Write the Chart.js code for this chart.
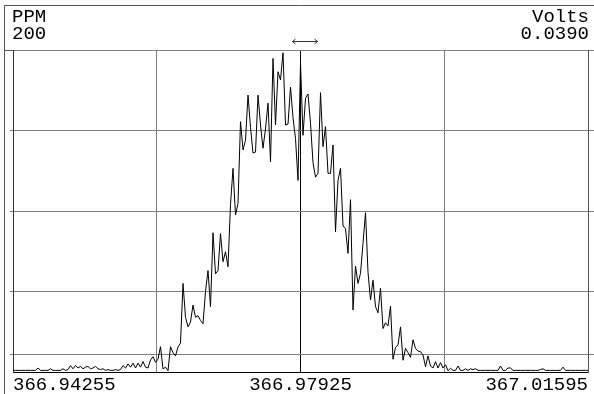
<!DOCTYPE html>
<html>
<head>
<meta charset="utf-8">
<script src="https://cdn.jsdelivr.net/npm/chart.js@4/dist/chart.umd.min.js"></script>
<style>
  html, body { margin: 0; padding: 0; background: #fff; }
  canvas { display: block; }
</style>
</head>
<body>
<canvas id="myChart" width="594" height="394"></canvas>
<script>
// scan range (m/z) and the grid / label positions on it
const mzStart = 366.94255;
const mzEnd = 367.01595;
const xGridMz = [366.94255, 366.9609, 366.97925, 366.9976, 367.01595];
const xTickLabels = ['366.94255', '', '366.97925', '', '367.01595'];

// y scale: PPM on the left, Volts on the right
const yTopPpm = 200;
const yTopVolts = '0.0390';
const thresholdPpm = 11;
const yGridPpm = [0, thresholdPpm, 50, 100, 150, 200];

// intensity of each scan step
const ppm = [
  1, 1, 1, 1, 1, 1, 1, 1, 1, 1,
  2.5, 1, 1, 1, 1, 2, 1, 1, 1, 1,
  2, 1, 1.5, 4, 2, 4, 2.5, 3.5, 2, 3,
  3.5, 2, 2.5, 3.5, 2, 1.5, 2, 1, 1.5, 1,
  1, 1.5, 1, 1.5, 4, 2.5, 5, 3, 5.5, 2.5,
  5.5, 3, 6.5, 3, 2.5, 7.5, 9.5, 6, 8, 15.7,
  1.9, 3, 0.8, 15.7, 12, 10, 15.5, 18, 55, 34,
  28, 31, 41.6, 34, 35, 32, 30, 50, 63, 40.6,
  86.5, 61, 63, 86, 68.5, 74.7, 65.4, 104, 126.5, 97.5,
  104.8, 155.5, 137.9, 144, 172, 152, 136, 136.6, 172, 153.4,
  139, 151, 167, 130.6, 194.8, 153.4, 186.5, 181.4, 198.3, 153.4,
  154, 177, 158, 145, 119, 192, 147, 170, 172.7, 154.5,
  130, 121, 123.4, 173.5, 140, 152.4, 123.4, 123.4, 141, 87,
  119, 126.5, 90.7, 89, 73.7, 107, 38.5, 65.8, 55, 61.3,
  80, 99, 62, 44.7, 57, 40.6, 36.8, 52, 27, 30.6,
  28.6, 41, 7.9, 15.3, 16.8, 28, 7.3, 14.7, 12, 9.1,
  20, 14.7, 13, 12.6, 10.6, 3.3, 10, 3.7, 2.5, 6.4,
  2.5, 5.8, 2.5, 4.5, 0.8, 2.3, 1, 1, 3.7, 1,
  1, 2, 1, 2, 1.5, 2, 1, 1, 1, 1,
  1, 1, 1, 1, 1, 3.7, 1, 1, 2.5, 2.5,
  1, 1, 1, 1, 1, 1, 1, 1, 1, 1,
  1, 1.5, 2, 1, 1, 1, 1, 1, 1, 1,
  3, 1, 1, 1, 1, 1, 1, 1, 1, 1, 1
];

const mzStep = (mzEnd - mzStart) / (ppm.length - 1);
const points = ppm.map((v, i) => ({ x: mzStart + i * mzStep, y: v }));

const FONT = '"Liberation Mono", "DejaVu Sans Mono", monospace';
const GRID = '#808080';

const frame = {
  id: 'frame',
  afterDraw(chart) {
    const ctx = chart.ctx;
    const area = chart.chartArea;
    ctx.save();
    ctx.strokeStyle = '#555';
    ctx.lineWidth = 1;
    ctx.beginPath();
    ctx.moveTo(4.5, 394);
    ctx.lineTo(4.5, 5.5);
    ctx.lineTo(594, 5.5);
    ctx.moveTo(4.5, Math.round(area.top) + 0.5);
    ctx.lineTo(area.left, Math.round(area.top) + 0.5);
    ctx.stroke();

    // cursor marker above the plot
    const mx = chart.scales.x.getPixelForValue(xGridMz[2]);
    const y = 41.5;
    const x0 = mx - 8, x1 = mx + 17;
    ctx.strokeStyle = '#333';
    ctx.beginPath();
    ctx.moveTo(x0, y); ctx.lineTo(x1, y);
    ctx.moveTo(x0 + 3, y - 2.5); ctx.lineTo(x0, y); ctx.lineTo(x0 + 3, y + 2.5);
    ctx.moveTo(x1 - 3, y - 2.5); ctx.lineTo(x1, y); ctx.lineTo(x1 - 3, y + 2.5);
    ctx.stroke();

    ctx.fillStyle = '#000';
    ctx.font = '19px ' + FONT;
    ctx.textBaseline = 'alphabetic';
    ctx.textAlign = 'left';
    ctx.fillText('PPM', 12, 22);
    ctx.fillText(String(yTopPpm), 12, 39);
    ctx.textAlign = 'right';
    ctx.fillText('Volts', 589, 22);
    ctx.fillText(yTopVolts, 589, 39);
    ctx.restore();
  }
};

const data = {
  datasets: [
    {
      data: points,
      borderColor: '#000',
      borderWidth: 1,
      pointRadius: 0,
      tension: 0,
      fill: false,
    },
  ],
};

const config = {
  type: 'line',
  data,
  options: {
    responsive: false,
    animation: false,
    devicePixelRatio: 1,
    layout: { padding: { left: 10, right: 0, top: 50, bottom: 0 } },
    plugins: { legend: { display: false }, tooltip: { enabled: false } },
    scales: {
      x: {
        type: 'linear',
        min: mzStart,
        max: mzEnd,
        afterBuildTicks: (scale) => { scale.ticks = xGridMz.map((v) => ({ value: v })); },
        afterFit: (scale) => { scale.height = 22; },
        grid: {
          color: (c) => (c.index === 2 ? '#000' : GRID),
          drawTicks: false,
        },
        border: { display: true, color: '#000' },
        ticks: {
          autoSkip: false,
          maxRotation: 0,
          align: 'inner',
          padding: 2,
          color: '#000',
          font: { family: FONT, size: 19 },
          callback: (value, index) => xTickLabels[index],
        },
      },
      y: {
        position: 'left',
        min: 0,
        max: yTopPpm,
        afterBuildTicks: (scale) => { scale.ticks = yGridPpm.map((v) => ({ value: v })); },
        afterFit: (scale) => { scale.width = 3; },
        grid: {
          color: (c) => (c.tick && c.tick.value === 0 ? 'rgba(0,0,0,0)' : GRID),
          tickLength: 3,
        },
        border: { display: true, color: '#333' },
        ticks: { display: false },
      },
      y2: {
        position: 'right',
        min: 0,
        max: yTopPpm,
        afterBuildTicks: (scale) => { scale.ticks = yGridPpm.map((v) => ({ value: v })); },
        afterFit: (scale) => { scale.width = 6; },
        grid: {
          drawOnChartArea: false,
          color: (c) => (c.tick && c.tick.value === 0 ? 'rgba(0,0,0,0)' : GRID),
          tickLength: 6,
        },
        border: { display: true, color: '#555' },
        ticks: { display: false },
      },
    },
  },
  plugins: [frame],
};

const myChart = new Chart(document.getElementById('myChart').getContext('2d'), config);
</script>
</body>
</html>
